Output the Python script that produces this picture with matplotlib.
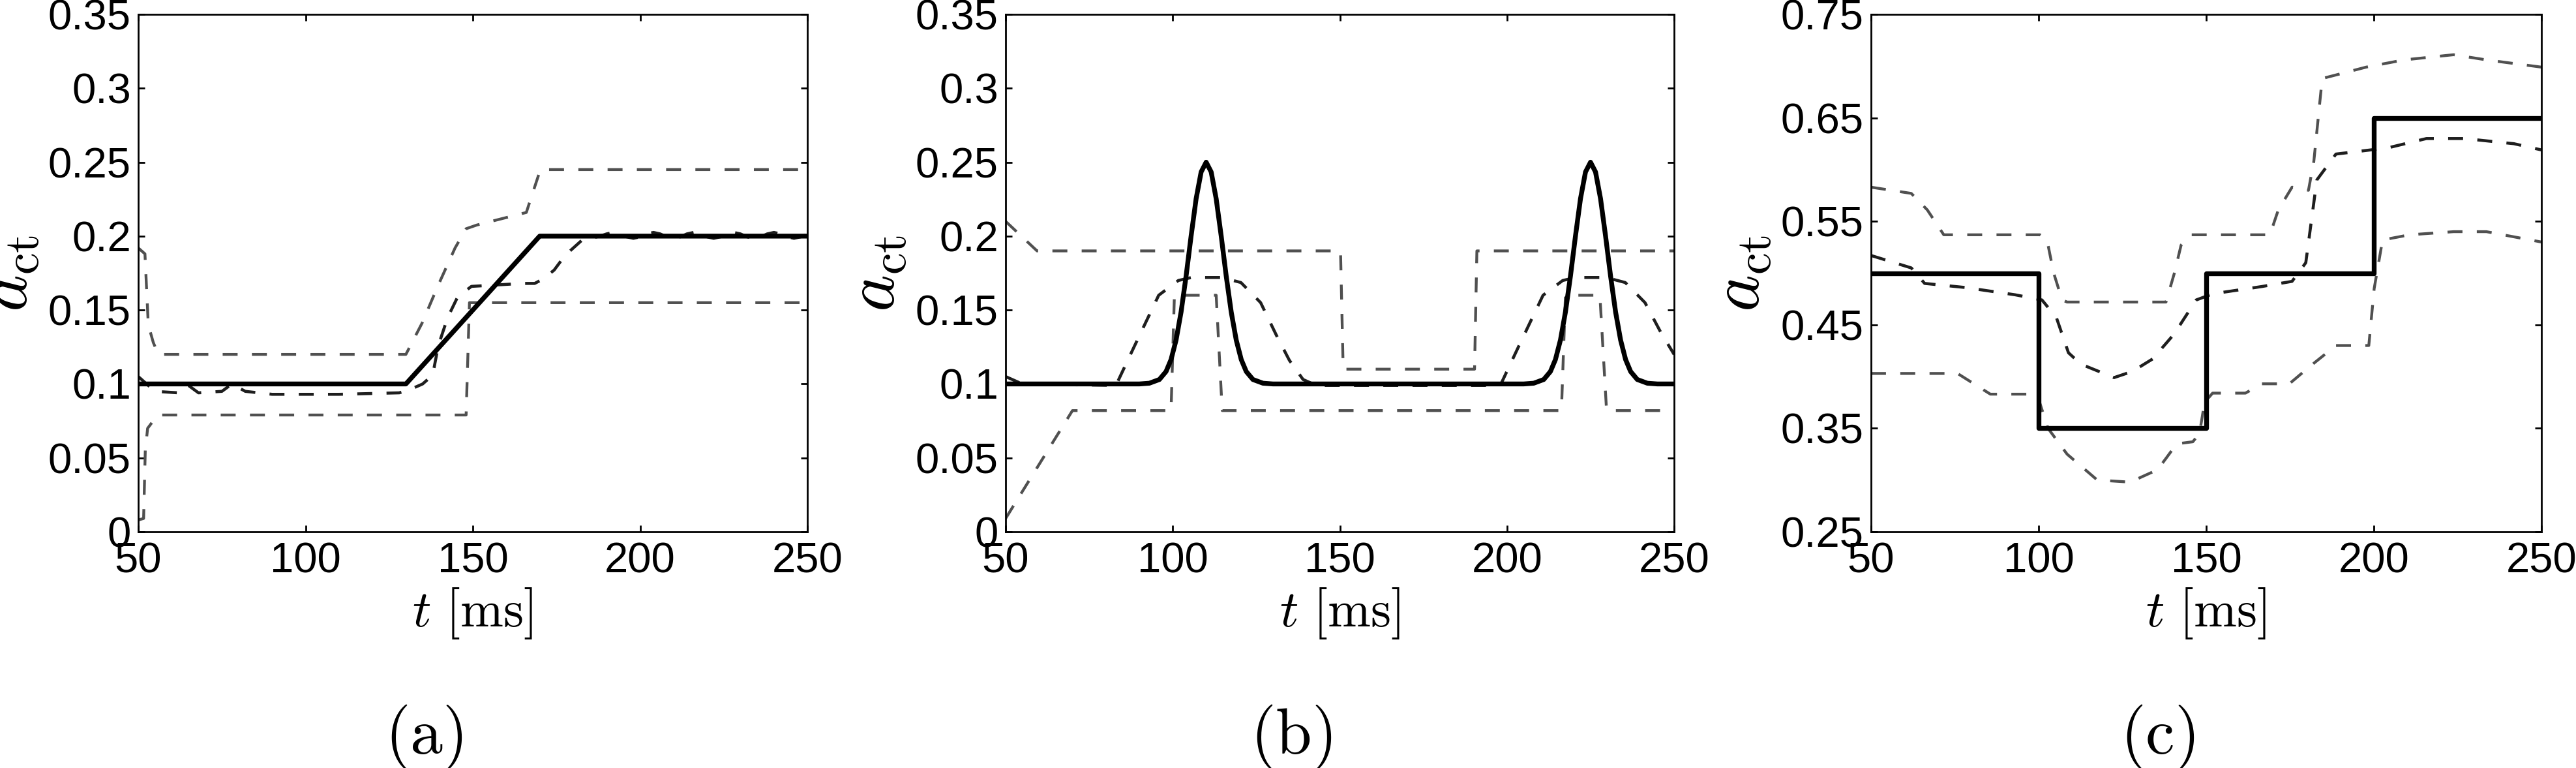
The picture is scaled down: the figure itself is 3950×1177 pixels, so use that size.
import matplotlib
matplotlib.use('Agg')
import matplotlib.pyplot as plt

plt.rcParams['font.family'] = ['Liberation Sans', 'DejaVu Sans']
plt.rcParams['mathtext.fontset'] = 'cm'
plt.rcParams['lines.scale_dashes'] = False

# ---------------- data ----------------
x_ticks = [50, 100, 150, 200, 250]
x_ticklabels = ['50', '100', '150', '200', '250']
y_ticks_ab = [0, 0.05, 0.1, 0.15, 0.2, 0.25, 0.3, 0.35]
y_ticklabels_ab = ['0', '0.05', '0.1', '0.15', '0.2', '0.25', '0.3', '0.35']
y_ticks_c = [0.25, 0.35, 0.45, 0.55, 0.65, 0.75]
y_ticklabels_c = ['0.25', '0.35', '0.45', '0.55', '0.65', '0.75']
captions = ['(a)', '(b)', '(c)']

# panel (a)
a_t_ref = [50, 130, 170, 250]
a_ref = [0.1, 0.1, 0.2, 0.2]
a_t_upper = [50, 52, 53, 54.5, 56, 130, 134.8, 139.7, 144.7, 148, 151.2, 166, 167, 170.2, 250]
a_upper = [0.192, 0.188, 0.14, 0.128, 0.12, 0.12, 0.141, 0.167, 0.192, 0.205, 0.2075, 0.216, 0.223, 0.245, 0.245]
a_t_lower = [50, 51.6, 52.1, 52.8, 55.8, 148, 149, 250]
a_lower = [0.008, 0.009, 0.055, 0.07, 0.079, 0.079, 0.155, 0.155]
a_t_mean = [50, 55, 62, 65, 68, 75, 78, 82, 90, 110, 128, 131, 135, 138, 139.7, 142.5, 145.5, 149.6,
            165, 168.5, 171, 174.3, 177.6, 182.5, 188, 190, 192, 194, 196, 198, 200, 202, 204, 206,
            208, 210, 212, 214, 216, 218, 220, 222, 224, 226, 228, 230, 232, 234, 236, 238, 240,
            242, 244, 246, 248, 250]
a_mean = [0.105, 0.095, 0.094, 0.099, 0.094, 0.095, 0.1, 0.095, 0.093, 0.093, 0.094, 0.096, 0.1, 0.106,
          0.126, 0.145, 0.159, 0.166, 0.168, 0.168, 0.171, 0.177, 0.187, 0.197, 0.2,
          0.2015, 0.2025, 0.2015, 0.1995, 0.1985, 0.1995, 0.2015, 0.2025, 0.2015, 0.1995, 0.1985,
          0.1995, 0.2015, 0.2025, 0.2015, 0.1995, 0.1985, 0.1995, 0.2015, 0.2025, 0.2015, 0.1995,
          0.1985, 0.1995, 0.2015, 0.2025, 0.2015, 0.1995, 0.1985, 0.1995, 0.201]

# panel (b)
b_t_ref = [50, 90, 93, 96, 98, 99.5, 101, 102.5, 104, 105.5, 107, 108.5, 110, 111.5, 113, 114.5, 116,
           117.5, 119, 120.5, 122, 124, 127, 130,
           205, 208, 211, 213, 214.5, 216, 217.5, 219, 220.5, 222, 223.5, 225, 226.5, 228, 229.5, 231,
           232.5, 234, 235.5, 237, 239, 242, 245, 250]
b_ref = [0.1, 0.1, 0.1005, 0.103, 0.1084, 0.1165, 0.1297, 0.1487, 0.173, 0.2001, 0.2253, 0.2434, 0.25,
         0.2434, 0.2253, 0.2001, 0.173, 0.1487, 0.1297, 0.1165, 0.1084, 0.103, 0.1005, 0.1,
         0.1, 0.1005, 0.103, 0.1084, 0.1165, 0.1297, 0.1487, 0.173, 0.2001, 0.2253, 0.2434, 0.25,
         0.2434, 0.2253, 0.2001, 0.173, 0.1487, 0.1297, 0.1165, 0.1084, 0.103, 0.1005, 0.1, 0.1]
b_t_upper = [50, 59.4, 150.2, 151, 190.3, 191, 250]
b_upper = [0.21, 0.19, 0.19, 0.11, 0.11, 0.19, 0.19]
b_t_lower = [50, 70, 99.5, 100.5, 113, 114.8, 216.3, 217.5, 227.8, 229.8, 250]
b_lower = [0.009, 0.082, 0.082, 0.16, 0.16, 0.082, 0.082, 0.16, 0.16, 0.082, 0.082]
b_t_mean = [50, 55, 83, 88, 92, 95.8, 101.7, 105.6, 114.7, 120.4, 126.3, 131, 134.9, 139, 143,
            198, 203, 207, 210.8, 216.7, 220.6, 229.7, 235.4, 241.3, 246, 250]
b_mean = [0.105, 0.1, 0.099, 0.123, 0.142, 0.160, 0.170, 0.172, 0.172, 0.1686, 0.155, 0.133, 0.116,
          0.103, 0.099, 0.099, 0.123, 0.142, 0.160, 0.170, 0.172, 0.172, 0.1686, 0.155, 0.135, 0.12]

# panel (c)
c_t_ref = [50, 100, 100, 150, 150, 200, 200, 250]
c_ref = [0.5, 0.5, 0.35, 0.35, 0.5, 0.5, 0.65, 0.65]
c_t_upper = [50, 62, 66.8, 71.7, 100.4, 102.5, 104.5, 107, 108.5, 138, 140.5, 142.5, 145.3, 169, 171.5,
             175.6, 180.5, 182.1, 184.6, 197.7, 209, 223.8, 233.6, 250]
c_upper = [0.583, 0.577, 0.561, 0.537, 0.537, 0.532, 0.5, 0.474, 0.472, 0.472, 0.5, 0.527, 0.537, 0.537,
           0.561, 0.583, 0.58, 0.608, 0.688, 0.699, 0.706, 0.711, 0.706, 0.699]
c_t_mean = [50, 62, 66, 78.3, 93, 101, 105.3, 108.9, 112.6, 122.5, 128, 134, 140.4, 147, 152, 166.6,
            175.6, 179.7, 183, 188.7, 204.2, 215.7, 227, 241.8, 250]
c_mean = [0.517, 0.505, 0.49, 0.486, 0.479, 0.474, 0.457, 0.423, 0.412, 0.399, 0.405, 0.417, 0.441,
          0.474, 0.48, 0.487, 0.492, 0.51, 0.59, 0.615, 0.621, 0.63, 0.63, 0.625, 0.619]
c_t_lower = [50, 75.8, 85.6, 99.5, 102.8, 108.5, 117.5, 127.3, 135.5, 141.2, 146, 148, 149.5, 151.9,
             161.7, 166.6, 174.8, 181, 188.7, 198.5, 200.1, 202.6, 210.7, 223.8, 233.6, 250]
c_lower = [0.403, 0.403, 0.383, 0.383, 0.35, 0.325, 0.30, 0.298, 0.31, 0.335, 0.337, 0.345, 0.375, 0.384,
           0.384, 0.393, 0.393, 0.41, 0.43, 0.43, 0.485, 0.532, 0.537, 0.54, 0.54, 0.53]

# ---------------- styling ----------------
W, H = 3950, 1177
fig = plt.figure(figsize=(W / 100, H / 100), dpi=100)

axes_px = [(212, 1238), (1542, 2567), (2869, 3897)]
top_px, bot_px = 22, 815

GRAY = '#505050'
DARK = '#1e1e1e'
dash = (0, (16.5, 15.8))

panels = [
    (a_t_upper, a_upper, a_t_lower, a_lower, a_t_mean, a_mean, a_t_ref, a_ref,
     (0, 0.35), y_ticks_ab, y_ticklabels_ab),
    (b_t_upper, b_upper, b_t_lower, b_lower, b_t_mean, b_mean, b_t_ref, b_ref,
     (0, 0.35), y_ticks_ab, y_ticklabels_ab),
    (c_t_upper, c_upper, c_t_lower, c_lower, c_t_mean, c_mean, c_t_ref, c_ref,
     (0.25, 0.75), y_ticks_c, y_ticklabels_c),
]

for i, (p, (x0, x1)) in enumerate(zip(panels, axes_px)):
    tu, u, tl, l, tm, m, tr, r, ylim, yt, ytl = p
    ax = fig.add_axes([x0 / W, (H - bot_px) / H, (x1 - x0) / W, (bot_px - top_px) / H])
    ax.plot(tu, u, color=GRAY, lw=3.1, linestyle=dash)
    ax.plot(tl, l, color=GRAY, lw=3.1, linestyle=dash)
    ax.plot(tm, m, color=DARK, lw=3.3, linestyle=dash)
    ax.plot(tr, r, color='black', lw=5.3, solid_joinstyle='round')
    ax.set_xlim(50, 250)
    ax.set_ylim(*ylim)
    ax.set_xticks(x_ticks)
    ax.set_xticklabels(x_ticklabels)
    ax.set_yticks(yt)
    ax.set_yticklabels(ytl)
    ax.tick_params(direction='in', length=7, width=2, labelsize=47,
                   top=True, right=True)
    ax.tick_params(axis='x', pad=11)
    ax.tick_params(axis='y', pad=8)
    for s in ax.spines.values():
        s.set_linewidth(2)
    ax.set_xlabel(r'$t\ [\mathrm{ms}]$', fontsize=57)
    ax.xaxis.set_label_coords(0.5, -0.105)
    ax.set_ylabel(r'$a_{\mathrm{ct}}$', fontsize=78)
    ax.yaxis.set_label_coords(-0.145, 0.5)
    cx = ((x0 + x1) / 2 - 75) / W
    fig.text(cx, (H - 1155) / H, r'$(\mathrm{' + captions[i][1] + r'})$', fontsize=72,
             ha='center', va='baseline')

fig.savefig('out.png', dpi=100)
